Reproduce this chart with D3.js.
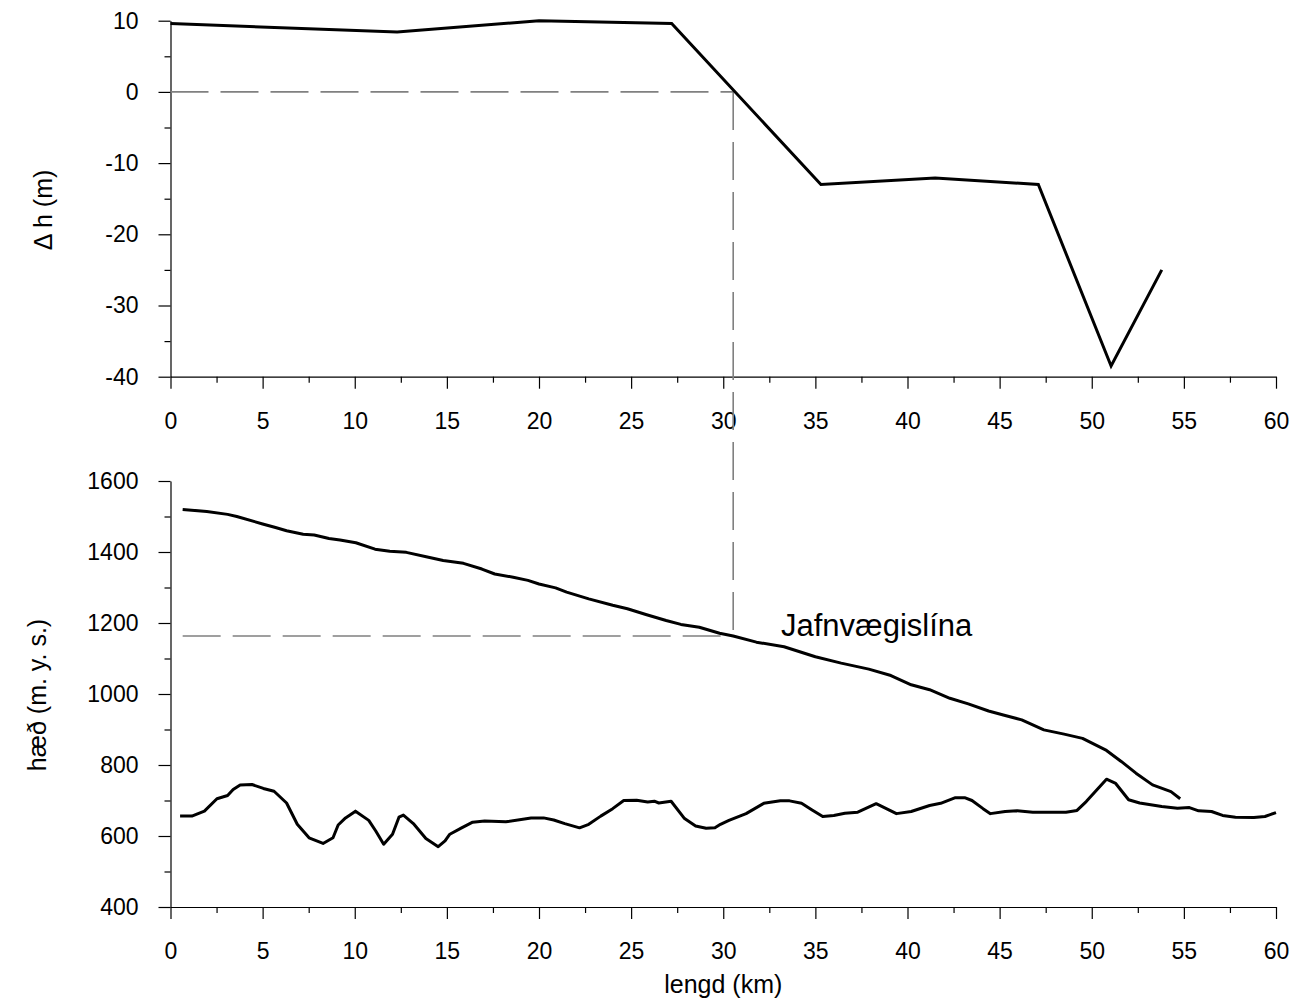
<!DOCTYPE html>
<html>
<head>
<meta charset="utf-8">
<script src="https://cdn.jsdelivr.net/npm/d3@7"></script>
<style>
    body { margin: 0; background: #fff; }
    svg { display: block; }
    text { font-family: Arial, "Liberation Sans", sans-serif; fill: #000; }
</style>
</head>
<body>
<svg id="chart" width="1300" height="1003"></svg>
<script>
// top panel: change in surface height along the profile
const dhKm = [0, 12.3, 20.0, 27.2, 35.3, 41.5, 47.1, 51.05, 53.8];
const dhVal = [9.6, 8.4, 10.0, 9.6, -13.0, -12.1, -13.0, -38.5, -25.0];

// bottom panel: glacier surface
const surfKm = [0.66, 1.97, 3.1, 3.6, 5.0, 5.7, 6.3, 7.2, 7.8, 8.6, 9.2, 10.06, 11.1, 11.9, 12.8,
    14.0, 14.8, 15.9, 16.9, 17.6, 18.6, 19.4, 20.0, 20.9, 21.5, 22.7, 24.0, 24.8, 25.8, 26.9,
    27.7, 28.7, 29.8, 30.54, 31.8, 33.3, 35.0, 36.4, 37.9, 39.1, 40.2, 41.2, 42.3, 43.3, 44.4,
    45.2, 46.2, 47.4, 48.5, 49.5, 50.8, 51.6, 52.4, 53.3, 54.3, 54.8];
const surfH = [1520, 1514, 1506, 1500, 1479, 1469, 1460, 1450, 1448, 1438, 1434, 1426, 1408, 1402, 1399,
    1385, 1376, 1368, 1352, 1338, 1329, 1320, 1310, 1299, 1287, 1268, 1250, 1240, 1224, 1207,
    1196, 1188, 1171, 1163.5, 1146, 1133, 1105, 1087, 1070, 1052, 1026, 1012, 988, 972, 952,
    941, 927, 899, 887, 875, 841, 810, 777, 744, 725, 705];

// bottom panel: bedrock
const bedKm = [0.52, 1.16, 1.84, 2.52, 3.1, 3.4, 3.78, 4.42, 5.04, 5.62, 6.3, 6.88, 7.52, 8.28, 8.82,
    9.1, 9.5, 10.04, 10.76, 11.14, 11.57, 12.05, 12.4, 12.64, 13.18, 13.86, 14.53, 14.9, 15.16, 15.8,
    16.4, 17.05, 18.2, 19.57, 20.25, 20.8, 21.4, 22.2, 22.7, 23.35, 24.0, 24.6, 25.3, 25.9, 26.26,
    26.5, 27.17, 27.9, 28.5, 29.07, 29.55, 29.85, 30.31, 31.24, 32.2, 33.1, 33.6, 34.25, 34.8, 35.4,
    36.0, 36.6, 37.3, 38.3, 39.4, 40.2, 41.2, 41.8, 42.6, 43.1, 43.5, 44.1, 44.5, 45.3, 45.95,
    46.8, 48.6, 49.2, 49.7, 50.8, 51.3, 52.0, 52.6, 53.8, 54.65, 55.3, 55.8, 56.5, 57.1, 57.8,
    58.8, 59.4, 60.0];
const bedH = [656, 656, 670, 705, 714, 731, 744, 745, 734, 726, 693, 633, 595, 579, 595,
    631, 651, 670, 644, 614, 577, 605, 653, 659, 635, 593, 570, 586, 605, 623,
    639, 642, 640, 651, 651, 645, 635, 623, 633, 656, 677, 700, 701, 696, 698,
    693, 698, 649, 628, 622, 623, 633, 644, 663, 692, 699, 699, 692, 674, 655,
    658, 664, 667, 691, 663, 669, 686, 692, 708, 708, 700, 677, 663, 669, 671,
    667, 667, 672, 697, 760, 748, 702, 693, 683, 678, 680, 671, 669, 658, 653,
    652, 655, 666];

// equilibrium line
const elaKm = 30.54;
const elaH = 1163.5;
const elaLabel = "Jafnvægislína";

const xTicks = d3.range(0, 61, 5);
const xMinor = d3.range(2.5, 60, 5);
const dhTicks = [10, 0, -10, -20, -30, -40];
const dhMinor = [5, -5, -15, -25, -35];
const hTicks = [1600, 1400, 1200, 1000, 800, 600, 400];
const hMinor = [1500, 1300, 1100, 900, 700, 500];

const svg = d3.select("#chart");

const x = d3.scaleLinear().domain([0, 60]).range([170.5, 1276]);
const yTop = d3.scaleLinear().domain([-40, 10]).range([376.7, 20.7]);
const yBot = d3.scaleLinear().domain([400, 1600]).range([907, 481]);

const tickFont = "23px";
const titleFont = "25px";
const plain = d => String(d);   // keep "-40" and "1600" as in the original

function drawAxes(y, yMajor, yMinorVals, bottomY) {
    // minor ticks (no labels)
    svg.append("g")
        .attr("transform", "translate(0," + bottomY + ")")
        .call(d3.axisBottom(x).tickValues(xMinor).tickSize(6).tickSizeOuter(0).tickFormat(""))
        .call(g => g.select(".domain").remove());
    svg.append("g")
        .attr("transform", "translate(" + x(0) + ",0)")
        .call(d3.axisLeft(y).tickValues(yMinorVals).tickSize(6).tickSizeOuter(0).tickFormat(""))
        .call(g => g.select(".domain").remove());

    const gx = svg.append("g")
        .attr("transform", "translate(0," + bottomY + ")")
        .call(d3.axisBottom(x).tickValues(xTicks).tickSize(12).tickSizeOuter(0)
            .tickPadding(24).tickFormat(plain));
    const gy = svg.append("g")
        .attr("transform", "translate(" + x(0) + ",0)")
        .call(d3.axisLeft(y).tickValues(yMajor).tickSize(12).tickSizeOuter(0)
            .tickPadding(20).tickFormat(plain));

    [gx, gy].forEach(g => {
        g.selectAll("text").style("font-size", tickFont).style("font-family", "Arial, 'Liberation Sans', sans-serif");
        g.selectAll("line, path").attr("stroke", "#000").attr("stroke-width", 1.2);
    });
    svg.selectAll("g.tick line").attr("stroke", "#000").attr("stroke-width", 1.2);
}

drawAxes(yTop, dhTicks, dhMinor, yTop(-40));
drawAxes(yBot, hTicks, hMinor, yBot(400));

// dashed ELA guide lines
const dash = "38,12";
svg.append("line")
    .attr("x1", x(0)).attr("x2", x(elaKm))
    .attr("y1", yTop(0)).attr("y2", yTop(0))
    .attr("stroke", "#808080").attr("stroke-width", 1.6).attr("stroke-dasharray", dash);
svg.append("line")
    .attr("x1", x(elaKm)).attr("x2", x(elaKm))
    .attr("y1", yTop(0)).attr("y2", yBot(elaH))
    .attr("stroke", "#808080").attr("stroke-width", 1.6).attr("stroke-dasharray", dash);
svg.append("line")
    .attr("x1", x(surfKm[0])).attr("x2", x(elaKm))
    .attr("y1", yBot(elaH)).attr("y2", yBot(elaH))
    .attr("stroke", "#808080").attr("stroke-width", 1.6).attr("stroke-dasharray", dash);

// data lines
const lineTop = d3.line().x(d => x(d[0])).y(d => yTop(d[1]));
const lineBot = d3.line().x(d => x(d[0])).y(d => yBot(d[1]));

svg.append("path")
    .datum(d3.zip(dhKm, dhVal))
    .attr("d", lineTop)
    .attr("fill", "none").attr("stroke", "#000").attr("stroke-width", 3)
    .attr("stroke-linejoin", "miter");

svg.append("path")
    .datum(d3.zip(surfKm, surfH))
    .attr("d", lineBot)
    .attr("fill", "none").attr("stroke", "#000").attr("stroke-width", 3)
    .attr("stroke-linejoin", "round");

svg.append("path")
    .datum(d3.zip(bedKm, bedH))
    .attr("d", lineBot)
    .attr("fill", "none").attr("stroke", "#000").attr("stroke-width", 3)
    .attr("stroke-linejoin", "round");

// labels
svg.append("text")
    .attr("x", 781).attr("y", 636)
    .style("font-size", "31px")
    .text(elaLabel);

svg.append("text")
    .attr("transform", "translate(52,210) rotate(-90)")
    .attr("text-anchor", "middle")
    .style("font-size", titleFont)
    .text("Δ h (m)");

svg.append("text")
    .attr("transform", "translate(46,695) rotate(-90)")
    .attr("text-anchor", "middle")
    .style("font-size", titleFont)
    .text("hæð (m. y. s.)");

svg.append("text")
    .attr("x", x(30)).attr("y", 993)
    .attr("text-anchor", "middle")
    .style("font-size", titleFont)
    .text("lengd (km)");
</script>
</body>
</html>
